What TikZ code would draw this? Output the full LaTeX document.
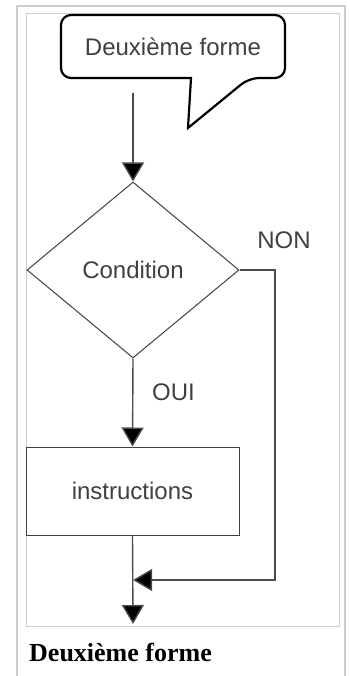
\documentclass[tikz,border=0pt]{standalone}
\usepackage{fontspec}
\setmainfont{Liberation Serif}
\setsansfont{Liberation Sans}
\usetikzlibrary{shapes.geometric,arrows.meta}

\begin{document}
\begin{tikzpicture}[x=1pt,y=-1pt]

    \tikzset{
      texte/.style={
        font=\sffamily\fontsize{24}{28}\selectfont,
        text=black!75,
        inner sep=0pt,
      },
      fleche/.style={
        draw=black!70,
        line width=1.4pt,
        -{Triangle[length=19pt,width=22pt,fill=black]},
      },
      cadre/.style={
        draw=black!20,
      },
    }
    \useasboundingbox (0,0) rectangle (350,676);
    % cadres de la figure
    \draw[cadre,line width=2pt] (17,676) -- (17,6.5) -- (345,6.5) -- (345,676);
    \draw[cadre,line width=1pt] (26,14) rectangle (339,626);

    % bulle
    \draw[black,line width=2.2pt,rounded corners=10pt] (191,78) -- (61,78) -- (61,15) -- (285,15) -- (285,78) -- (249,78) [sharp corners] -- (188,128) -- (191,78) -- cycle;
    \node[texte] (titre) at (173,47) {Deuxième forme};

    \coordinate (debut) at (133,93);
    \node[draw=black!75,line width=1pt,diamond,minimum width=212pt,minimum height=176pt,texte] (cond) at (133,270) {Condition};
    \node[draw=black!75,line width=1pt,minimum width=213pt,minimum height=88pt,texte] (instr) at (132.5,491) {instructions};
    \coordinate (coin) at (275,270);
    \coordinate (jonction) at (133,580);
    \coordinate (fin) at (133,624);

	\draw[fleche] (debut) -- (cond.north);
	\draw[fleche] (cond.south) -- (instr.north);
	\draw[fleche] (cond.east) -- (coin) |- (jonction);
	\draw[fleche] (instr.south) -- (fin);

	\node[texte] (non) at (284,240) {NON};
	\node[texte] (oui) at (173.5,392) {OUI};

	\node[anchor=base west,inner sep=0pt,font=\bfseries\fontsize{26}{30}\selectfont] (legende) at (29,661) {Deuxième forme};

\end{tikzpicture}
\end{document}
